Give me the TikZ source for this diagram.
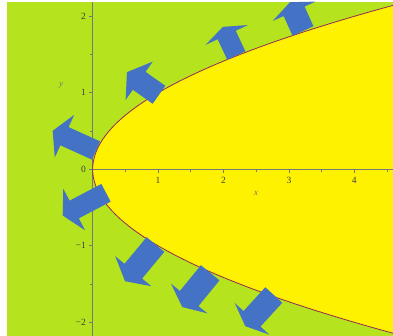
\documentclass[tikz,border=0pt]{standalone}
\usepackage{fontspec}
\setmainfont{Liberation Serif}
\usetikzlibrary{calc}
\definecolor{bggreen}{RGB}{181,228,30}
\definecolor{plotyellow}{RGB}{255,242,0}
\definecolor{arrowblue}{RGB}{68,114,196}
\definecolor{curvered}{RGB}{150,40,85}
\definecolor{axisgray}{RGB}{120,120,120}
\definecolor{labelgray}{RGB}{60,60,60}
\newcommand{\blockarr}[4]{%
  \fill[arrowfill] ($#1!#4!90:#2$) -- ($#2!#4!-90:#1$) -- ($#2!23.5pt!-90:#1$) --
    ($#2!#3!180:#1$) -- ($#2!23.5pt!90:#1$) -- ($#2!#4!90:#1$) -- ($#1!#4!-90:#2$) -- cycle;}
\begin{document}
\begin{tikzpicture}[x=1pt,y=-1pt,
  arrowfill/.style={fill=arrowblue},
  axisline/.style={draw=axisgray,line width=0.9pt},
  tickline/.style={draw=axisgray,line width=0.7pt},
  ticklabel/.style={text=labelgray,font=\fontsize{9.5}{10}\selectfont,inner sep=0pt},
  axislabel/.style={text=axisgray,font=\fontsize{9}{10}\selectfont\itshape,inner sep=0pt},
  curveline/.style={draw=curvered,line width=0.8pt}]
\useasboundingbox (0,0) rectangle (393,336);
\fill[white] (0,0) rectangle (393,336);
\begin{scope}
  \clip (7,2) rectangle (393,336);
  \fill[bggreen] (7,2) rectangle (393,336);
  \fill[plotyellow] plot[domain=-2.3:2.3,samples=140,variable=\t] ({92.7+65.4*\t*\t},{169.3-76.5*\t}) -- cycle;
  % axes
  \coordinate (O) at (92.7,169.3);
  \draw[axisline] (92.7,2) -- (92.7,336);
  \draw[axisline] (O) -- (393,169.3);
  \foreach \k in {-2,-1,1,2} \draw[tickline] (92.7,{169.3-76.5*\k}) -- (88.7,{169.3-76.5*\k});
  \foreach \k in {-1.5,-0.5,0.5,1.5} \draw[tickline] (92.7,{169.3-76.5*\k}) -- (90.2,{169.3-76.5*\k});
  \draw[tickline] (O) -- (88.7,169.3);
  \foreach \k in {1,2,3,4} \draw[tickline] ({92.7+65.4*\k},169.3) -- ({92.7+65.4*\k},173.3);
  \foreach \k in {0.5,1.5,2.5,3.5,4.5} \draw[tickline] ({92.7+65.4*\k},169.3) -- ({92.7+65.4*\k},171.8);
  % boundary curve
  \draw[curveline] plot[domain=-2.3:2.3,samples=140,variable=\t] ({92.7+65.4*\t*\t},{169.3-76.5*\t});
  % arrows
  \blockarr{(96,150.5)}{(64.5,136.2)}{13pt}{10pt}
  \blockarr{(159,94.8)}{(139.2,80.8)}{15pt}{11pt}
  \blockarr{(236.3,55.5)}{(226.7,35)}{9pt}{10pt}
  \blockarr{(303,31)}{(294.1,11.3)}{10pt}{11.5pt}
  \blockarr{(106,192.8)}{(74.2,209.5)}{13pt}{10pt}
  \blockarr{(155.5,244.5)}{(133.3,271.2)}{13pt}{11.5pt}
  \blockarr{(210.2,272.8)}{(189.2,298.5)}{11pt}{12pt}
  \blockarr{(273.8,295)}{(252,318.8)}{10pt}{11.5pt}
\end{scope}
% tick labels
\node[ticklabel,anchor=east] (yl2) at (86,16.3) {2};
\node[ticklabel,anchor=east] (yl1) at (86,92.8) {1};
\node[ticklabel,anchor=east] (yl0) at (86,169.8) {0};
\node[ticklabel,anchor=east] (ylm1) at (86,245.8) {−1};
\node[ticklabel,anchor=east] (ylm2) at (86,322.3) {−2};
\node[ticklabel] (xl1) at (158.1,180.5) {1};
\node[ticklabel] (xl2) at (223.5,180.5) {2};
\node[ticklabel] (xl3) at (288.9,180.5) {3};
\node[ticklabel] (xl4) at (354.3,180.5) {4};
\node[axislabel] (xlab) at (256,193) {x};
\node[axislabel] (ylab) at (61,85) {y};
\end{tikzpicture}
\end{document}
